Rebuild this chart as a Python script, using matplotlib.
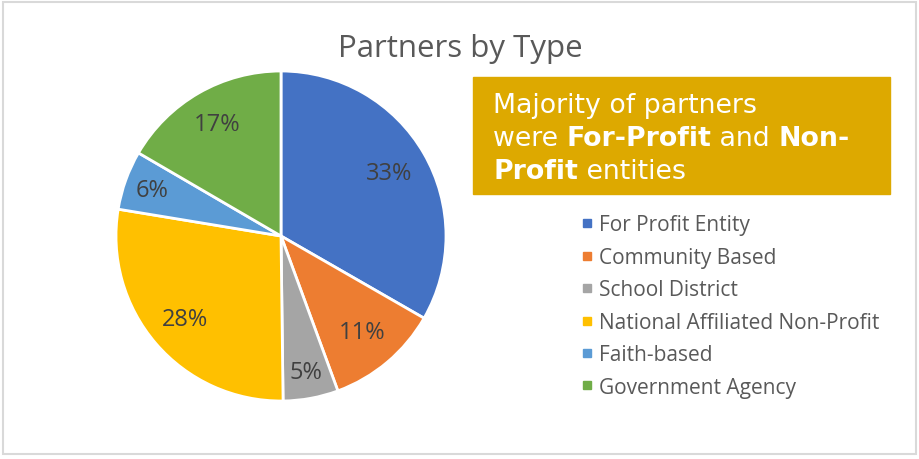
import numpy as np
import matplotlib
matplotlib.use('Agg')
import matplotlib.pyplot as plt
from matplotlib.patches import Rectangle
from matplotlib.lines import Line2D

# data (shares, labels shown rounded)
categories = ['For Profit Entity', 'Community Based', 'School District',
              'National Affiliated Non-Profit', 'Faith-based', 'Government Agency']
shares = [33.3, 11.1, 5.4, 27.8, 5.8, 16.6]
colors = ['#4472C4', '#ED7D31', '#A5A5A5', '#FFC000', '#5B9BD5', '#70AD47']
title = 'Partners by Type'
callout = [
    [('Majority of partners', False)],
    [('were ', False), ('For-Profit', True), (' and ', False), ('Non-', True)],
    [('Profit', True), (' entities', False)],
]

W, H = 919, 460
fig = plt.figure(figsize=(W / 100, H / 100), dpi=100)

# outer border
fig.patches.append(Rectangle((3 / W, 5 / H), 913 / W, 452 / H, transform=fig.transFigure,
                             fill=False, edgecolor='#D9D9D9', linewidth=1.5))

fig.text(460 / W, 1 - 57 / H, title, ha='center', va='baseline',
         fontsize=22.5, color='#595959', family='Open Sans')

# pie, centre (281, 237) px, radius 165 px
ax = fig.add_axes([116 / W, 58 / H, 330 / W, 330 / H])
wedges, texts, autotexts = ax.pie(
    shares, colors=colors, startangle=90, counterclock=False,
    autopct='%.0f%%', pctdistance=0.77,
    wedgeprops=dict(edgecolor='white', linewidth=2),
    textprops=dict(fontsize=17, color='#404040', family='Open Sans'))
ax.set_xlim(-1, 1)
ax.set_ylim(-1, 1)
ax.set_aspect('equal')

# Excel nudges the small slices' labels outwards
label_r = [0.76, 0.76, 0.84, 0.77, 0.83, 0.78]
for w, t, r in zip(wedges, autotexts, label_r):
    a = np.deg2rad((w.theta1 + w.theta2) / 2)
    t.set_position((r * np.cos(a), r * np.sin(a)))

# callout box
fig.patches.append(Rectangle((473 / W, 1 - 195 / H), 417 / W, 117 / H,
                             transform=fig.transFigure, color='#DDA900', zorder=0))
fig.canvas.draw()
renderer = fig.canvas.get_renderer()
y_px = 113
for line in callout:
    x_px = 493
    for txt, bold in line:
        t = fig.text(x_px / W, 1 - y_px / H, txt, ha='left', va='baseline',
                     fontsize=19.3, color='white', family='DejaVu Sans',
                     fontweight='bold' if bold else 'normal')
        bb = t.get_window_extent(renderer)
        x_px += bb.width
    y_px += 33

# legend
handles = [Line2D([], [], marker='s', linestyle='none', markersize=6,
                  markerfacecolor=c, markeredgecolor=c) for c in colors]
fig.legend(handles, categories, loc='upper left', bbox_to_anchor=(570 / W, 1 - 205 / H),
           frameon=False, labelcolor='#595959', labelspacing=0.55,
           handlelength=0.6, handletextpad=0.3, borderpad=0,
           prop=dict(family='Open Sans', size=15))

fig.savefig('out.png', dpi=100)
